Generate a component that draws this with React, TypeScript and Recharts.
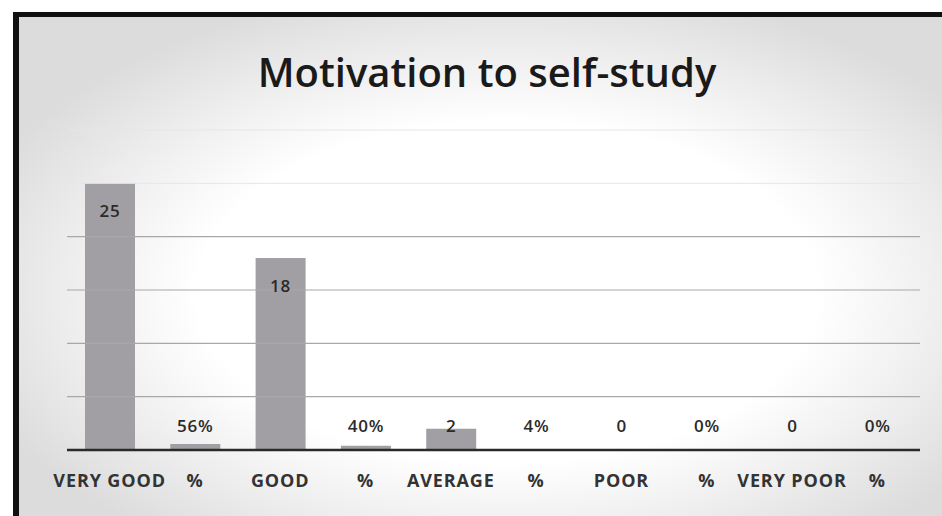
import React from "react";
import { BarChart, Bar, XAxis, YAxis, LabelList, ReferenceLine } from "recharts";

const levels = ["VERY GOOD", "GOOD", "AVERAGE", "POOR", "VERY POOR"];
const counts = [25, 18, 2, 0, 0];
const percents = [0.56, 0.4, 0.04, 0, 0];
const percentTick = "%";
const gridValues = [5, 10, 15, 20];
const faintGridValues = [25, 30];
const yTicks = [0, 5, 10, 15, 20, 25, 30];
const title = "Motivation to self-study";

const data = levels.flatMap((lvl, i) => [
  { name: lvl, key: "c" + i, value: counts[i], label: String(counts[i]) },
  { name: percentTick, key: "p" + i, value: percents[i], label: Math.round(percents[i] * 100) + "%" },
]);

const FONT = "'Open Sans', 'DejaVu Sans', sans-serif";

const renderLabel = (props: any) => {
  const { x, y, width, height, value } = props;
  const baseline = y + height;
  const cy = Math.min(y + 27, baseline - 25);
  return (
    <text
      x={x + width / 2}
      y={cy}
      textAnchor="middle"
      dominantBaseline="central"
      fontFamily={FONT}
      fontWeight={600}
      fontSize={17}
      letterSpacing={0.8}
      fill="#2a2a2a"
    >
      {value}
    </text>
  );
};

const renderTick = (props: any) => {
  const { x, y, payload } = props;
  return (
    <text
      x={x}
      y={y + 22}
      textAnchor="middle"
      dominantBaseline="central"
      fontFamily={FONT}
      fontWeight={700}
      fontSize={18}
      letterSpacing={0.9}
      fill="#333"
    >
      {payload.value}
    </text>
  );
};

export default function App() {
  return (
    <div style={{ position: "absolute", left: 0, top: 0, width: 942, height: 516, background: "#fff", overflow: "hidden" }}>
      <div
        style={{
          position: "absolute",
          left: 13,
          top: 12,
          width: 940,
          height: 500,
          borderTop: "5px solid #111",
          borderLeft: "6px solid #111",
          borderBottom: "3px solid #8a8a8a",
          background:
            "radial-gradient(ellipse 60% 62% at 52% 55%, #ffffff 0%, #ffffff 55%, #ececec 80%, #dcdcdc 100%)",
        }}
      />
      <svg width={942} height={516} style={{ position: "absolute", left: 0, top: 0 }}>
        <text x={487} y={87} textAnchor="middle" fontFamily={FONT} fontWeight={600} fontSize={40} fill="#1a1a1a">
          {title}
        </text>
      </svg>
      <div style={{ position: "absolute", left: 0, top: 0 }}>
        <BarChart
          width={942}
          height={516}
          data={data}
          margin={{ top: 130, right: 22, left: 67, bottom: 36 }}
        >
          <XAxis
            dataKey="key"
            height={30}
            tickLine={false}
            interval={0}
            axisLine={{ stroke: "#2a2a2a", strokeWidth: 2.5 }}
            tick={(p: any) => renderTick({ ...p, payload: { value: data[p.index]?.name ?? "" } })}
          />
          <YAxis hide domain={[0, 30]} ticks={yTicks} />
          {faintGridValues.map((v) => (
            <ReferenceLine key={"f" + v} y={v} stroke="#e6e6e6" strokeWidth={1} />
          ))}
          {gridValues.map((v) => (
            <ReferenceLine key={"g" + v} y={v} stroke="#a8a8a8" strokeWidth={1.2} />
          ))}
          <Bar dataKey="value" fill="#a29fa4" barSize={50} minPointSize={1} isAnimationActive={false}>
            <LabelList dataKey="label" content={renderLabel} />
          </Bar>
        </BarChart>
      </div>
    </div>
  );
}
